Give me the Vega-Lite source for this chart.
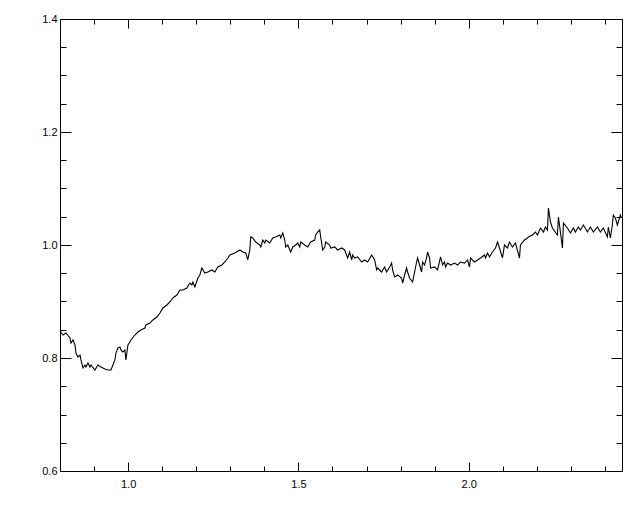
{
  "$schema": "https://vega.github.io/schema/vega-lite/v6.json",
  "autosize": "none",
  "width": 562,
  "height": 452,
  "padding": {"left": 60, "top": 19, "right": 18, "bottom": 41},
  "background": "white",
  "config": {
    "view": {"stroke": null},
    "axis": {
      "domainColor": "black",
      "domainWidth": 1,
      "tickColor": "black",
      "tickWidth": 1,
      "labelColor": "black",
      "labelFont": "Liberation Sans",
      "labelFontSize": 11,
      "grid": false,
      "title": null
    }
  },
  "data": {
    "values": [
      {"w": 0.802, "f": 0.8465}, {"w": 0.8088, "f": 0.8407}, {"w": 0.8176, "f": 0.8442}, {"w": 0.8293, "f": 0.8354},
      {"w": 0.8323, "f": 0.8265}, {"w": 0.8381, "f": 0.8319}, {"w": 0.844, "f": 0.823}, {"w": 0.8469, "f": 0.8088},
      {"w": 0.8528, "f": 0.8018}, {"w": 0.8587, "f": 0.8053}, {"w": 0.8616, "f": 0.7965}, {"w": 0.8674, "f": 0.7823},
      {"w": 0.8733, "f": 0.7876}, {"w": 0.8762, "f": 0.7841}, {"w": 0.8821, "f": 0.7912}, {"w": 0.888, "f": 0.7841},
      {"w": 0.8909, "f": 0.7876}, {"w": 0.9026, "f": 0.7788}, {"w": 0.9114, "f": 0.7876}, {"w": 0.9202, "f": 0.7841},
      {"w": 0.932, "f": 0.7805}, {"w": 0.9408, "f": 0.7788}, {"w": 0.9496, "f": 0.7788}, {"w": 0.9554, "f": 0.7876},
      {"w": 0.9613, "f": 0.7965}, {"w": 0.9642, "f": 0.8088}, {"w": 0.9701, "f": 0.8177}, {"w": 0.976, "f": 0.8195},
      {"w": 0.9789, "f": 0.8142}, {"w": 0.9848, "f": 0.8106}, {"w": 0.9906, "f": 0.8142}, {"w": 0.9935, "f": 0.7965},
      {"w": 0.9994, "f": 0.823}, {"w": 1.0053, "f": 0.8283}, {"w": 1.0082, "f": 0.8319}, {"w": 1.0199, "f": 0.8407},
      {"w": 1.0287, "f": 0.846}, {"w": 1.0375, "f": 0.8496}, {"w": 1.0493, "f": 0.8531}, {"w": 1.0522, "f": 0.8584},
      {"w": 1.0639, "f": 0.8619}, {"w": 1.0727, "f": 0.8673}, {"w": 1.0845, "f": 0.8726}, {"w": 1.0933, "f": 0.8796},
      {"w": 1.1021, "f": 0.8885}, {"w": 1.1138, "f": 0.8938}, {"w": 1.1226, "f": 0.8991}, {"w": 1.1314, "f": 0.9062},
      {"w": 1.1431, "f": 0.9115}, {"w": 1.1519, "f": 0.9204}, {"w": 1.1607, "f": 0.9204}, {"w": 1.1724, "f": 0.9239},
      {"w": 1.1812, "f": 0.9327}, {"w": 1.1871, "f": 0.9292}, {"w": 1.19, "f": 0.9345}, {"w": 1.1959, "f": 0.9257},
      {"w": 1.2047, "f": 0.9416}, {"w": 1.2106, "f": 0.9469}, {"w": 1.2164, "f": 0.9593}, {"w": 1.2252, "f": 0.9504},
      {"w": 1.234, "f": 0.9522}, {"w": 1.2457, "f": 0.9558}, {"w": 1.2545, "f": 0.9522}, {"w": 1.2633, "f": 0.9611},
      {"w": 1.2751, "f": 0.9646}, {"w": 1.2839, "f": 0.9699}, {"w": 1.2927, "f": 0.977}, {"w": 1.2985, "f": 0.9823},
      {"w": 1.3132, "f": 0.9858}, {"w": 1.3279, "f": 0.9912}, {"w": 1.3367, "f": 0.9876}, {"w": 1.3455, "f": 0.9858},
      {"w": 1.3513, "f": 0.9735}, {"w": 1.3572, "f": 0.9912}, {"w": 1.3601, "f": 1.0142}, {"w": 1.366, "f": 1.0124},
      {"w": 1.3748, "f": 1.0053}, {"w": 1.3865, "f": 1.0}, {"w": 1.3894, "f": 0.9965}, {"w": 1.3953, "f": 1.0088},
      {"w": 1.4012, "f": 1.0035}, {"w": 1.4041, "f": 1.0088}, {"w": 1.4158, "f": 1.0035}, {"w": 1.4246, "f": 1.0124},
      {"w": 1.4334, "f": 1.0142}, {"w": 1.4452, "f": 1.0177}, {"w": 1.4481, "f": 1.0124}, {"w": 1.454, "f": 1.0212},
      {"w": 1.4598, "f": 1.0088}, {"w": 1.4628, "f": 0.9965}, {"w": 1.4686, "f": 1.0}, {"w": 1.4774, "f": 0.9876},
      {"w": 1.4833, "f": 0.9965}, {"w": 1.4921, "f": 1.0}, {"w": 1.4979, "f": 1.0035}, {"w": 1.5038, "f": 0.9965},
      {"w": 1.5067, "f": 1.0053}, {"w": 1.5185, "f": 1.0}, {"w": 1.5273, "f": 0.9965}, {"w": 1.5361, "f": 1.0053},
      {"w": 1.5478, "f": 1.0088}, {"w": 1.5507, "f": 1.0177}, {"w": 1.5566, "f": 1.023}, {"w": 1.5625, "f": 1.0265},
      {"w": 1.5654, "f": 1.0142}, {"w": 1.5713, "f": 0.9912}, {"w": 1.5771, "f": 0.9965}, {"w": 1.5801, "f": 1.0053},
      {"w": 1.5918, "f": 1.0}, {"w": 1.5947, "f": 0.9947}, {"w": 1.6065, "f": 0.9965}, {"w": 1.6153, "f": 0.9912},
      {"w": 1.627, "f": 0.9947}, {"w": 1.6358, "f": 0.9912}, {"w": 1.6446, "f": 0.977}, {"w": 1.6504, "f": 0.9876},
      {"w": 1.6563, "f": 0.9735}, {"w": 1.6592, "f": 0.9823}, {"w": 1.6651, "f": 0.977}, {"w": 1.6739, "f": 0.9788},
      {"w": 1.6856, "f": 0.9699}, {"w": 1.6944, "f": 0.9735}, {"w": 1.7032, "f": 0.9699}, {"w": 1.715, "f": 0.9823},
      {"w": 1.7238, "f": 0.9735}, {"w": 1.7296, "f": 0.9558}, {"w": 1.7326, "f": 0.9593}, {"w": 1.7443, "f": 0.9522},
      {"w": 1.7531, "f": 0.9611}, {"w": 1.759, "f": 0.9522}, {"w": 1.7677, "f": 0.9611}, {"w": 1.7736, "f": 0.9681},
      {"w": 1.7765, "f": 0.9558}, {"w": 1.7824, "f": 0.9434}, {"w": 1.7912, "f": 0.9469}, {"w": 1.8029, "f": 0.9416},
      {"w": 1.8059, "f": 0.9327}, {"w": 1.8117, "f": 0.9469}, {"w": 1.8176, "f": 0.9593}, {"w": 1.8205, "f": 0.9522},
      {"w": 1.8264, "f": 0.9416}, {"w": 1.8352, "f": 0.9345}, {"w": 1.8411, "f": 0.9522}, {"w": 1.8469, "f": 0.9699},
      {"w": 1.8499, "f": 0.977}, {"w": 1.8557, "f": 0.9646}, {"w": 1.8616, "f": 0.9522}, {"w": 1.8645, "f": 0.9699},
      {"w": 1.8704, "f": 0.9646}, {"w": 1.8762, "f": 0.977}, {"w": 1.8792, "f": 0.9876}, {"w": 1.885, "f": 0.977},
      {"w": 1.888, "f": 0.9593}, {"w": 1.8997, "f": 0.9611}, {"w": 1.9085, "f": 0.9558}, {"w": 1.9173, "f": 0.9788},
      {"w": 1.9232, "f": 0.9646}, {"w": 1.929, "f": 0.9699}, {"w": 1.932, "f": 0.9611}, {"w": 1.9378, "f": 0.9681},
      {"w": 1.9466, "f": 0.9646}, {"w": 1.9584, "f": 0.9681}, {"w": 1.9672, "f": 0.9646}, {"w": 1.976, "f": 0.9699},
      {"w": 1.9877, "f": 0.9681}, {"w": 1.9965, "f": 0.9735}, {"w": 2.0023, "f": 0.9611}, {"w": 2.0053, "f": 0.977},
      {"w": 2.017, "f": 0.9699}, {"w": 2.0258, "f": 0.9735}, {"w": 2.0346, "f": 0.977}, {"w": 2.0463, "f": 0.9823},
      {"w": 2.0493, "f": 0.977}, {"w": 2.0551, "f": 0.9858}, {"w": 2.061, "f": 0.9788}, {"w": 2.0698, "f": 0.9876},
      {"w": 2.0786, "f": 0.9947}, {"w": 2.0845, "f": 1.0053}, {"w": 2.0903, "f": 0.9947}, {"w": 2.0991, "f": 0.977},
      {"w": 2.105, "f": 1.0}, {"w": 2.1138, "f": 0.9947}, {"w": 2.1196, "f": 1.0053}, {"w": 2.1284, "f": 0.9965},
      {"w": 2.1372, "f": 1.0035}, {"w": 2.149, "f": 0.977}, {"w": 2.1519, "f": 1.0}, {"w": 2.1636, "f": 1.0088},
      {"w": 2.1724, "f": 1.0124}, {"w": 2.1754, "f": 1.0142}, {"w": 2.1871, "f": 1.0177}, {"w": 2.1959, "f": 1.023},
      {"w": 2.2018, "f": 1.0177}, {"w": 2.2106, "f": 1.0301}, {"w": 2.2194, "f": 1.023}, {"w": 2.2252, "f": 1.0319},
      {"w": 2.2311, "f": 1.0265}, {"w": 2.234, "f": 1.0655}, {"w": 2.2399, "f": 1.0407}, {"w": 2.2457, "f": 1.0301},
      {"w": 2.2604, "f": 1.0177}, {"w": 2.2634, "f": 1.0496}, {"w": 2.2692, "f": 1.023}, {"w": 2.2751, "f": 0.9947},
      {"w": 2.278, "f": 1.0389}, {"w": 2.2897, "f": 1.0301}, {"w": 2.2985, "f": 1.0212}, {"w": 2.3073, "f": 1.0301},
      {"w": 2.3132, "f": 1.023}, {"w": 2.322, "f": 1.0319}, {"w": 2.3279, "f": 1.0265}, {"w": 2.3367, "f": 1.0354},
      {"w": 2.3484, "f": 1.023}, {"w": 2.3572, "f": 1.0319}, {"w": 2.366, "f": 1.023}, {"w": 2.3777, "f": 1.0319},
      {"w": 2.3865, "f": 1.023}, {"w": 2.3953, "f": 1.0301}, {"w": 2.407, "f": 1.0142}, {"w": 2.41, "f": 1.0319},
      {"w": 2.4158, "f": 1.0124}, {"w": 2.4217, "f": 1.0354}, {"w": 2.4246, "f": 1.0531}, {"w": 2.4305, "f": 1.0478},
      {"w": 2.4364, "f": 1.0354}, {"w": 2.4452, "f": 1.0531}, {"w": 2.4481, "f": 1.0478}
    ]
  },
  "resolve": {"scale": {"x": "independent", "y": "independent"}, "axis": {"x": "independent", "y": "independent"}},
  "layer": [
    {
      "mark": {"type": "line", "color": "black", "strokeWidth": 1.1, "clip": true, "interpolate": "linear"},
      "encoding": {
        "x": {
          "field": "w", "type": "quantitative",
          "scale": {"domain": [0.8, 2.45], "nice": false, "zero": false},
          "axis": {
            "orient": "bottom",
            "values": [0.8, 0.9, 1.0, 1.1, 1.2, 1.3, 1.4, 1.5, 1.6, 1.7, 1.8, 1.9, 2.0, 2.1, 2.2, 2.3, 2.4],
            "format": ".1f",
            "labelExpr": "abs(datum.value*2 - round(datum.value*2)) < 0.001 && datum.value > 0.85 ? datum.label : ''",
            "tickSize": {"condition": {"test": "abs(datum.value*2 - round(datum.value*2)) < 0.001", "value": -9}, "value": -5},
            "labelPadding": 16,
            "labelFlush": false,
            "labelOverlap": false
          }
        },
        "y": {
          "field": "f", "type": "quantitative",
          "scale": {"domain": [0.6, 1.4], "nice": false, "zero": false},
          "axis": {
            "orient": "left",
            "values": [0.6, 0.65, 0.7, 0.75, 0.8, 0.85, 0.9, 0.95, 1.0, 1.05, 1.1, 1.15, 1.2, 1.25, 1.3, 1.35, 1.4],
            "format": ".1f",
            "labelExpr": "abs(datum.value*5 - round(datum.value*5)) < 0.001 ? datum.label : ''",
            "tickSize": {"condition": {"test": "abs(datum.value*5 - round(datum.value*5)) < 0.001", "value": -11}, "value": -6},
            "labelPadding": 14,
            "labelFlush": false,
            "labelOverlap": false
          }
        }
      }
    },
    {
      "mark": {"type": "line", "strokeOpacity": 0},
      "encoding": {
        "x": {
          "field": "w", "type": "quantitative",
          "scale": {"domain": [0.8, 2.45], "nice": false, "zero": false},
          "axis": {
            "orient": "top",
            "values": [0.8, 0.9, 1.0, 1.1, 1.2, 1.3, 1.4, 1.5, 1.6, 1.7, 1.8, 1.9, 2.0, 2.1, 2.2, 2.3, 2.4],
            "labels": false,
            "tickSize": {"condition": {"test": "abs(datum.value*2 - round(datum.value*2)) < 0.001", "value": -9}, "value": -5}
          }
        },
        "y": {
          "field": "f", "type": "quantitative",
          "scale": {"domain": [0.6, 1.4], "nice": false, "zero": false},
          "axis": {
            "orient": "right",
            "values": [0.6, 0.65, 0.7, 0.75, 0.8, 0.85, 0.9, 0.95, 1.0, 1.05, 1.1, 1.15, 1.2, 1.25, 1.3, 1.35, 1.4],
            "labels": false,
            "tickSize": {"condition": {"test": "abs(datum.value*5 - round(datum.value*5)) < 0.001", "value": -11}, "value": -6}
          }
        }
      }
    }
  ]
}
